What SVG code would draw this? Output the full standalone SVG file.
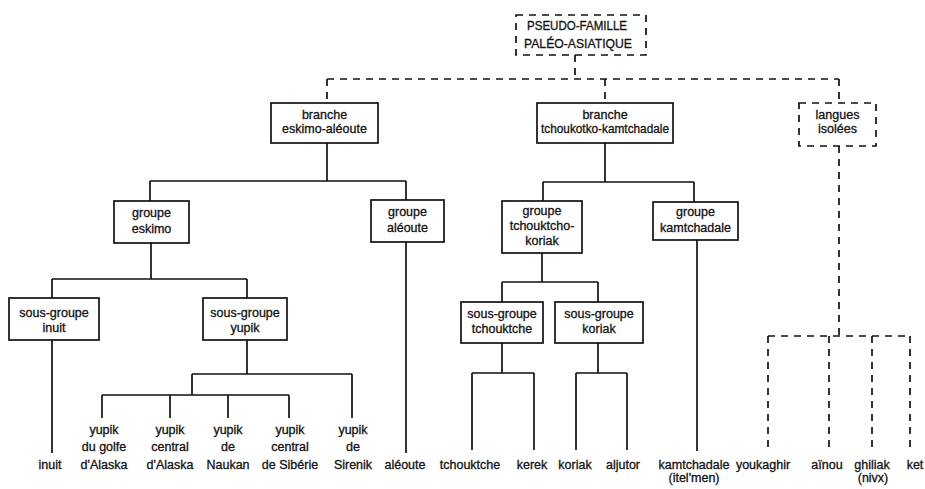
<svg xmlns="http://www.w3.org/2000/svg" width="925" height="489" viewBox="0 0 925 489">
<style>
.box{fill:#fff;stroke:#111;stroke-width:1.7}
.dbox{fill:#fff;stroke:#111;stroke-width:1.7;stroke-dasharray:7 6}
.ln{stroke:#111;stroke-width:1.7;fill:none}
.dl{stroke:#111;stroke-width:1.7;fill:none;stroke-dasharray:7 6}
text{font-family:"Liberation Sans",Arial,sans-serif;font-size:12.5px;fill:#111;stroke:#111;stroke-width:0.3;text-anchor:middle}
.caps{font-size:13.5px}
</style>
<rect width="925" height="489" fill="#fff"/>
<g id="connectors">
<path class="dl" d="M575 55V79M327 79H839M327 79V103M605 79V103M839 79V103"/>
<path class="ln" d="M327 143V181M150 181H406M150 181V201M406 181V200"/>
<path class="ln" d="M605 143V182M543 182H694M543 182V201M694 182V202"/>
<path class="ln" d="M151 243V279M52 279H247M52 279V298M247 279V298"/>
<path class="ln" d="M52 340V453M247 340V374M192 374H352M192 374V395M102 395H289M102 395V418M170 395V418M228 395V418M289 395V418M352 374V418"/>
<path class="ln" d="M406 242V453"/>
<path class="ln" d="M542 253V282M502 282H598M502 282V302M598 282V302"/>
<path class="ln" d="M502 343V373M472 373H534M472 373V450M534 373V450"/>
<path class="ln" d="M598 343V373M576 373H627M576 373V450M627 373V450"/>
<path class="ln" d="M697 240V451"/>
<path class="dl" d="M839 146V336M768 336H910M768 336V450M829 336V450M872 336V450M910 336V450"/>
</g>
<g id="pseudo-famille"><rect class="dbox" x="516" y="15" width="130" height="40"/><text class="caps" x="577" y="30" textLength="100" lengthAdjust="spacingAndGlyphs">PSEUDO-FAMILLE</text><text class="caps" x="578" y="48" textLength="108" lengthAdjust="spacingAndGlyphs">PALÉO-ASIATIQUE</text></g>
<g id="branche-eskimo-aleoute"><rect class="box" x="271" y="103" width="107" height="40"/><text x="324.5" y="119">branche</text><text x="324.5" y="133">eskimo-aléoute</text></g>
<g id="branche-tchoukotko-kamtchadale"><rect class="box" x="537" y="103" width="136" height="40"/><text x="605" y="119">branche</text><text x="605" y="133" textLength="128" lengthAdjust="spacingAndGlyphs">tchoukotko-kamtchadale</text></g>
<g id="langues-isolees"><rect class="dbox" x="799" y="103" width="77" height="43"/><text x="837.5" y="119">langues</text><text x="837.5" y="133">isolées</text></g>
<g id="groupe-eskimo"><rect class="box" x="114" y="201" width="75" height="42"/><text x="151.5" y="217">groupe</text><text x="151.5" y="233">eskimo</text></g>
<g id="groupe-aleoute"><rect class="box" x="371" y="200" width="73" height="42"/><text x="407.5" y="216">groupe</text><text x="407.5" y="232">aléoute</text></g>
<g id="groupe-tchouktcho-koriak"><rect class="box" x="502" y="201" width="80" height="52"/><text x="542" y="215">groupe</text><text x="542" y="230">tchouktcho-</text><text x="542" y="245">koriak</text></g>
<g id="groupe-kamtchadale"><rect class="box" x="653" y="202" width="85" height="38"/><text x="695.5" y="216">groupe</text><text x="695.5" y="232">kamtchadale</text></g>
<g id="sous-groupe-inuit"><rect class="box" x="9" y="298" width="90" height="42"/><text x="54" y="317">sous-groupe</text><text x="54" y="332">inuit</text></g>
<g id="sous-groupe-yupik"><rect class="box" x="203" y="298" width="84" height="42"/><text x="245" y="317">sous-groupe</text><text x="245" y="332">yupik</text></g>
<g id="sous-groupe-tchouktche"><rect class="box" x="461" y="302" width="82" height="41"/><text x="502" y="318">sous-groupe</text><text x="502" y="333">tchouktche</text></g>
<g id="sous-groupe-koriak"><rect class="box" x="555" y="302" width="88" height="41"/><text x="599" y="318">sous-groupe</text><text x="599" y="333">koriak</text></g>
<g id="inuit"><text x="50" y="469">inuit</text></g>
<g id="yupik-golfe"><text x="104" y="434">yupik</text><text x="104" y="451">du golfe</text><text x="104" y="469">d'Alaska</text></g>
<g id="yupik-central-alaska"><text x="170" y="434">yupik</text><text x="170" y="451">central</text><text x="170" y="469">d'Alaska</text></g>
<g id="yupik-naukan"><text x="228" y="434">yupik</text><text x="228" y="451">de</text><text x="228" y="469">Naukan</text></g>
<g id="yupik-central-siberie"><text x="290" y="434">yupik</text><text x="290" y="451">central</text><text x="290" y="469">de Sibérie</text></g>
<g id="yupik-sirenik"><text x="353" y="434">yupik</text><text x="353" y="451">de</text><text x="353" y="469">Sirenik</text></g>
<g id="aleoute"><text x="405" y="469">aléoute</text></g>
<g id="tchouktche"><text x="470" y="469">tchouktche</text></g>
<g id="kerek"><text x="532" y="469">kerek</text></g>
<g id="koriak"><text x="575" y="469">koriak</text></g>
<g id="aljutor"><text x="623" y="469">aljutor</text></g>
<g id="kamtchadale"><text x="694" y="469">kamtchadale</text><text x="694" y="482">(itel'men)</text></g>
<g id="youkaghir"><text x="763" y="469">youkaghir</text></g>
<g id="ainou"><text x="827" y="469">aïnou</text></g>
<g id="ghiliak"><text x="872" y="469">ghiliak</text><text x="873" y="482">(nivx)</text></g>
<g id="ket"><text x="915" y="469">ket</text></g>
</svg>
